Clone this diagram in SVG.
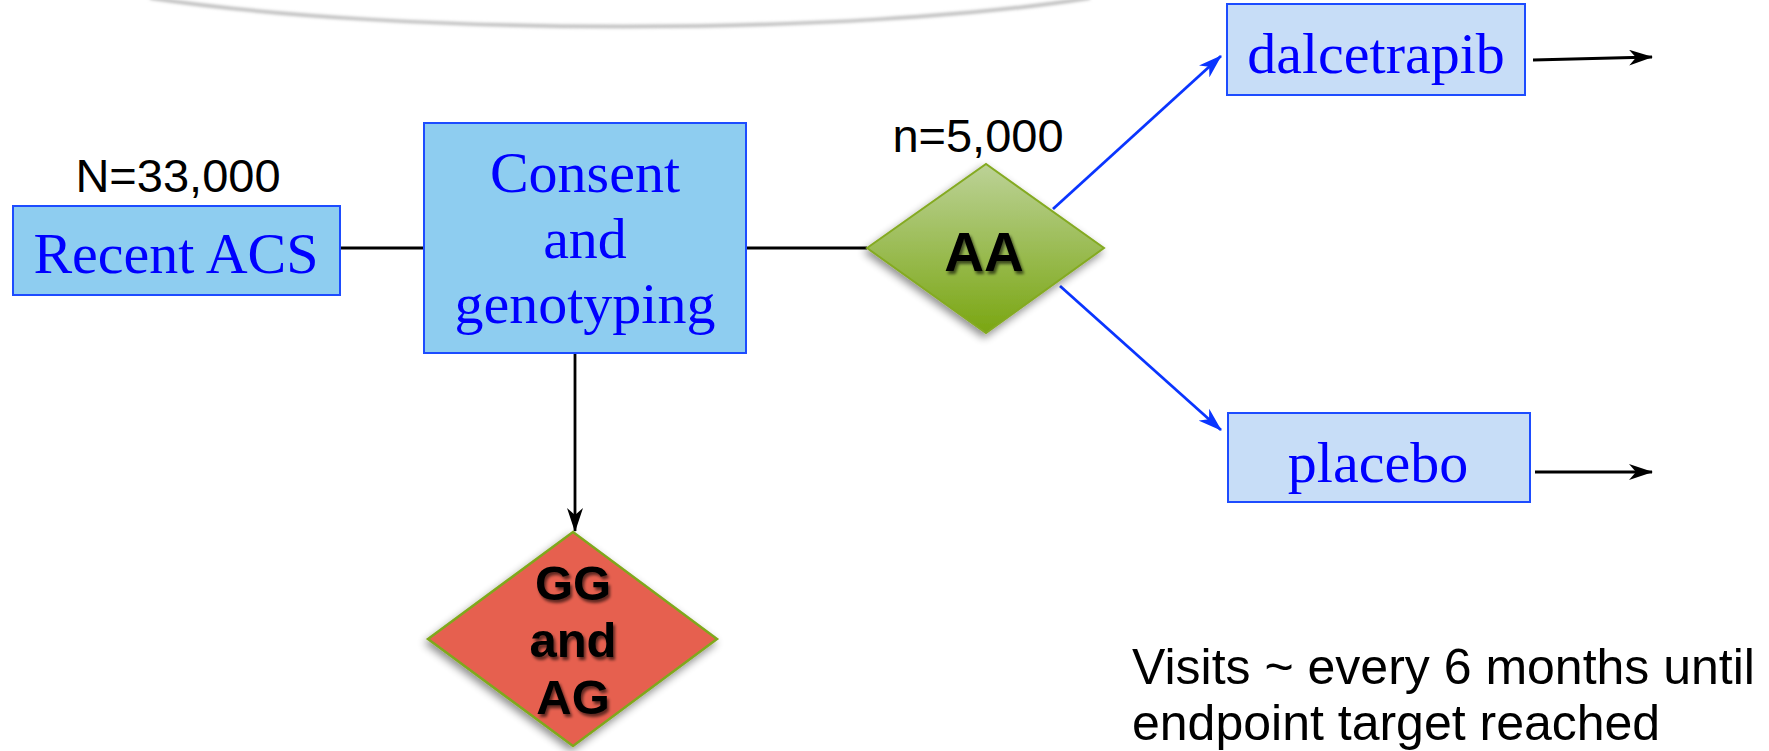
<svg xmlns="http://www.w3.org/2000/svg" width="1769" height="751" viewBox="0 0 1769 751">
  <defs>
    <style>
      .box { fill: #8ecdf0; stroke: #1d4cff; stroke-width: 2; }
      .arm { fill: #c7ddf7; stroke: #1d4cff; stroke-width: 2; }
      .serif { font-family: "Liberation Serif", "Times New Roman", serif; font-size: 58px; fill: #0000ff; text-anchor: middle; }
      .sans { font-family: "Liberation Sans", Arial, sans-serif; fill: #000; }
      .bold { font-family: "Liberation Sans", Arial, sans-serif; font-weight: bold; fill: #000; text-anchor: middle; }
      .link { fill: none; stroke: #000; stroke-width: 2.8; }
      .blue { fill: none; stroke: #0a35ff; stroke-width: 2.8; }
    </style>
    <linearGradient id="greenFill" x1="0" y1="0" x2="0" y2="1">
      <stop offset="0" stop-color="#bcd297"/>
      <stop offset="1" stop-color="#7aa612"/>
    </linearGradient>
    <filter id="dropShadow" x="-20%" y="-20%" width="140%" height="140%">
      <feGaussianBlur in="SourceAlpha" stdDeviation="4"/>
      <feOffset dx="-2" dy="4" result="blur"/>
      <feComponentTransfer><feFuncA type="linear" slope="0.45"/></feComponentTransfer>
      <feMerge><feMergeNode/><feMergeNode in="SourceGraphic"/></feMerge>
    </filter>
    <filter id="textShadow" x="-20%" y="-20%" width="140%" height="140%">
      <feGaussianBlur in="SourceAlpha" stdDeviation="1.6"/>
      <feOffset dx="2" dy="3"/>
      <feComponentTransfer><feFuncA type="linear" slope="0.6"/></feComponentTransfer>
      <feMerge><feMergeNode/><feMergeNode in="SourceGraphic"/></feMerge>
    </filter>
    <filter id="arcShadow" x="-5%" y="-50%" width="110%" height="200%">
      <feGaussianBlur in="SourceGraphic" stdDeviation="1.5"/>
    </filter>
    <marker id="headBlack" markerUnits="userSpaceOnUse" viewBox="0 0 24 16" markerWidth="24" markerHeight="16" refX="23" refY="8" orient="auto">
      <path d="M0,0 L24,8 L0,16 L7,8 z" fill="#000"/>
    </marker>
    <marker id="headBlue" markerUnits="userSpaceOnUse" viewBox="0 0 24 16" markerWidth="24" markerHeight="16" refX="23" refY="8" orient="auto">
      <path d="M0,0 L24,8 L0,16 L7,8 z" fill="#0a35ff"/>
    </marker>
  </defs>

  <rect width="1769" height="751" fill="#ffffff"/>

  <!-- faint curved edge along the top -->
  <g id="top-arc" filter="url(#arcShadow)">
    <path d="M150,-2 C400,36 850,36 1090,-2" fill="none" stroke="#bdbdbd" stroke-width="3.5"/>
  </g>

  <!-- connectors -->
  <g id="connectors">
    <line class="link" x1="340" y1="248" x2="424" y2="248"/>
    <line class="link" x1="746" y1="248" x2="867" y2="248"/>
    <line class="link" x1="575" y1="354" x2="575" y2="531" marker-end="url(#headBlack)"/>
    <line class="blue" x1="1053" y1="209" x2="1221" y2="56" marker-end="url(#headBlue)"/>
    <line class="blue" x1="1060" y1="286" x2="1221" y2="430" marker-end="url(#headBlue)"/>
    <line class="link" x1="1533" y1="60" x2="1652" y2="57" marker-end="url(#headBlack)"/>
    <line class="link" x1="1535" y1="472" x2="1652" y2="472" marker-end="url(#headBlack)"/>
  </g>

  <g id="recent-acs">
    <text class="sans" x="178" y="192" font-size="47" text-anchor="middle">N=33,000</text>
    <rect class="box" x="13" y="206" width="327" height="89"/>
    <text class="serif" x="176" y="273">Recent ACS</text>
  </g>

  <g id="consent">
    <rect class="box" x="424" y="123" width="322" height="230"/>
    <text class="serif" x="585" y="192">Consent</text>
    <text class="serif" x="585" y="258">and</text>
    <text class="serif" x="585" y="323">genotyping</text>
  </g>

  <g id="aa">
    <text class="sans" x="978" y="152" font-size="47" text-anchor="middle">n=5,000</text>
    <polygon points="867,248 986,164 1104,248 986,333" fill="url(#greenFill)" stroke="#84aa22" stroke-width="2" filter="url(#dropShadow)"/>
    <text class="bold" x="984" y="271" font-size="55" filter="url(#textShadow)">AA</text>
  </g>

  <g id="gg-ag">
    <polygon points="428,639 573,532 717,639 573,746" fill="#e6604f" stroke="#7fa81c" stroke-width="2.5" filter="url(#dropShadow)"/>
    <g filter="url(#textShadow)">
      <text class="bold" x="573" y="600" font-size="49">GG</text>
      <text class="bold" x="573" y="657" font-size="49">and</text>
      <text class="bold" x="573" y="714" font-size="49">AG</text>
    </g>
  </g>

  <g id="dalcetrapib">
    <rect class="arm" x="1227" y="4" width="298" height="91"/>
    <text class="serif" x="1376" y="73">dalcetrapib</text>
  </g>

  <g id="placebo">
    <rect class="arm" x="1228" y="413" width="302" height="89"/>
    <text class="serif" x="1378" y="482">placebo</text>
  </g>

  <g id="visits-note">
    <text class="sans" x="1132" y="684" font-size="50">Visits ~ every 6 months until</text>
    <text class="sans" x="1132" y="740" font-size="50">endpoint target reached</text>
  </g>
</svg>
